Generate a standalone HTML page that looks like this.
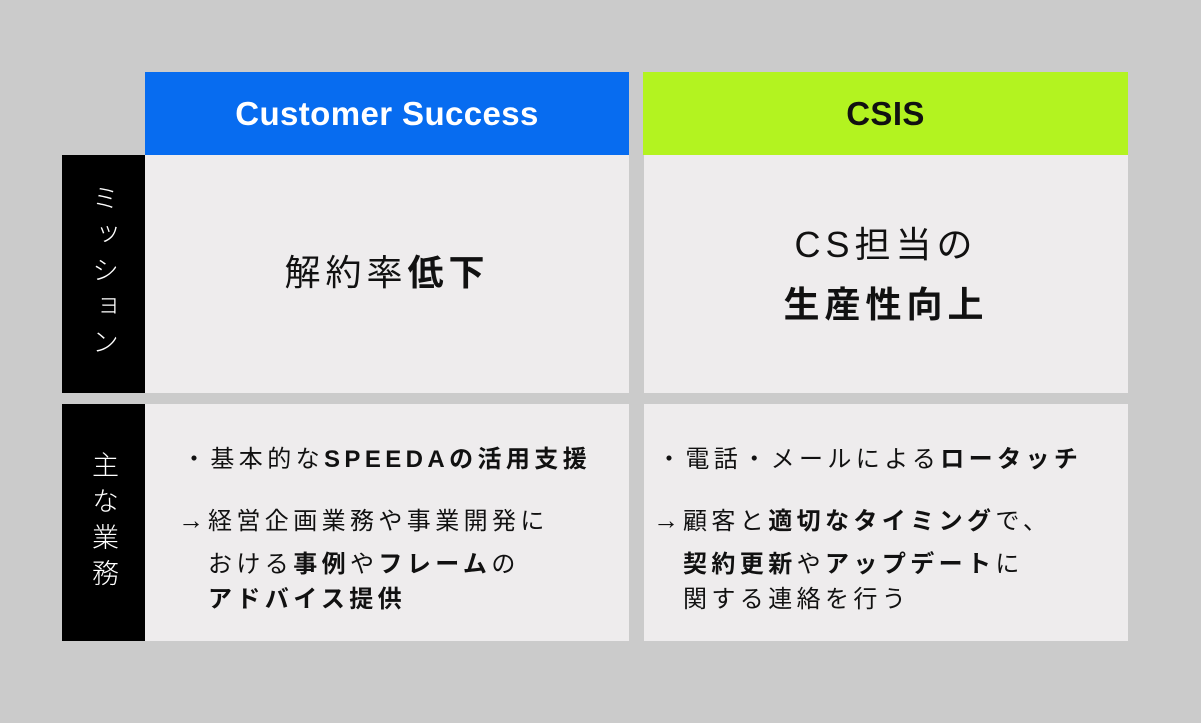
<!DOCTYPE html>
<html><head><meta charset="utf-8"><style>
html,body{margin:0;padding:0}
body{width:1201px;height:723px;background:#cbcbcb;position:relative;overflow:hidden;font-family:"Liberation Sans","Noto Sans CJK JP",sans-serif;color:#111}
.b{position:absolute}
.hd{color:#fff;font-size:33px;font-weight:bold;letter-spacing:0.4px;display:flex;align-items:center;justify-content:center}
.cell{background:#eeeced}
.side{background:#000;color:#fff;writing-mode:vertical-rl;display:flex;align-items:center;justify-content:center;font-size:27px;letter-spacing:9px;font-weight:300}
.t{position:absolute;font-size:24px;letter-spacing:4.4px;white-space:nowrap;line-height:30px}
.t b{font-weight:bold}
.ar{font-size:26px;letter-spacing:0;display:inline-block;width:30px}
.big{position:absolute;font-size:36px;letter-spacing:5px;white-space:nowrap;line-height:44px;text-align:center}
</style></head><body>
<div class="b hd" style="left:145px;top:72px;width:484px;height:83px;background:#076cf0">Customer Success</div>
<div class="b hd" style="left:643px;top:72px;width:485px;height:83px;background:#b3f320;color:#111">CSIS</div>

<div class="b side" style="left:62px;top:155px;width:83px;height:238px">ミッション</div>
<div class="b side" style="left:62px;top:404px;width:83px;height:237px">主な業務</div>

<div class="b cell" style="left:145px;top:155px;width:484px;height:238px"></div>
<div class="b cell" style="left:644px;top:155px;width:484px;height:238px"></div>
<div class="b cell" style="left:145px;top:404px;width:484px;height:237px"></div>
<div class="b cell" style="left:644px;top:404px;width:484px;height:237px"></div>

<div class="big" style="left:145px;width:484px;top:251px">解約率<b>低下</b></div>
<div class="big" style="left:644px;width:484px;top:223px">CS担当の</div>
<div class="big" style="left:644px;width:484px;top:283px"><b>生産性向上</b></div>

<div class="t" style="left:182px;top:445px">・基本的な<b>SPEEDAの活用支援</b></div>
<div class="t" style="left:178px;top:505px"><span class="ar">→</span>経営企画業務や事業開発に</div>
<div class="t" style="left:208px;top:550px">おける<b>事例</b>や<b>フレーム</b>の</div>
<div class="t" style="left:208px;top:585px"><b>アドバイス提供</b></div>

<div class="t" style="left:657px;top:445px">・電話・メールによる<b>ロータッチ</b></div>
<div class="t" style="left:653px;top:505px"><span class="ar">→</span>顧客と<b>適切なタイミング</b>で、</div>
<div class="t" style="left:683px;top:550px"><b>契約更新</b>や<b>アップデート</b>に</div>
<div class="t" style="left:683px;top:585px">関する連絡を行う</div>
</body></html>
